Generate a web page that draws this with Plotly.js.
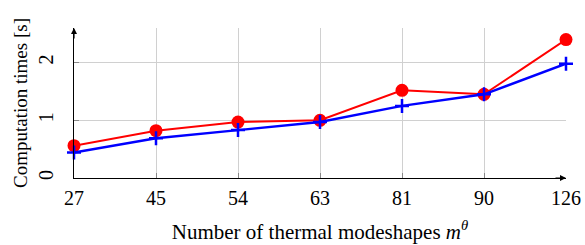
<!DOCTYPE html>
<html><head><meta charset="utf-8">
<script src="https://cdn.plot.ly/plotly-3.0.1.min.js"></script>
<style>body{margin:0;padding:0;background:#fff}#chart{width:585px;height:245px}</style>
</head><body><div id="chart"></div>
<script>
const categories = ['27','45','54','63','81','90','126'];
const redValues = [0.56, 0.82, 0.97, 1.00, 1.52, 1.45, 2.40];
const blueValues = [0.44, 0.69, 0.83, 0.97, 1.25, 1.45, 1.98];
const yTicks = [0, 1, 2];

const serif = 'Liberation Serif, Times New Roman, serif';
const traces = [
  {x: categories, y: redValues, type: 'scatter', mode: 'lines+markers',
   line: {color: '#ff0000', width: 2}, marker: {symbol: 'circle', size: 13, color: '#ff0000'},
   cliponaxis: false},
  {x: categories, y: blueValues, type: 'scatter', mode: 'lines+markers',
   line: {color: '#0000ff', width: 2.5}, marker: {symbol: 'cross-thin', size: 10, line: {color: '#0000ff', width: 2.5}},
   cliponaxis: false}
];
const layout = {
  width: 585, height: 245,
  margin: {l: 74, r: 19, t: 28, b: 67},
  paper_bgcolor: '#fff', plot_bgcolor: '#fff',
  showlegend: false,
  font: {family: serif, color: '#000', size: 20},
  xaxis: {type: 'category', range: [0, 6], showgrid: true, gridcolor: '#d0d0d0', gridwidth: 1,
    showline: true, linecolor: '#000', linewidth: 1.2, zeroline: false,
    ticks: 'inside', ticklen: 5, tickcolor: '#888', tickfont: {family: serif, size: 20},
    ticklabelstandoff: 2,
    title: {text: 'Number of thermal modeshapes <i>m</i><sup><i>θ</i></sup>', font: {family: serif, size: 21}, standoff: 16}},
  yaxis: {range: [0, 2.6], tickvals: yTicks, ticktext: yTicks.map(String), tickangle: -90,
    showgrid: true, gridcolor: '#d0d0d0', gridwidth: 1,
    showline: true, linecolor: '#000', linewidth: 1.2, zeroline: false,
    ticks: 'inside', ticklen: 5, tickcolor: '#888', tickfont: {family: serif, size: 20},
    ticklabelstandoff: 12,
    title: {text: 'Computation times [s]', font: {family: serif, size: 19}, standoff: 2}},
  annotations: [
    {xref: 'paper', yref: 'paper', x: 0, y: 1, ax: 0, ay: 12, text: '', showarrow: true,
     arrowhead: 2, arrowsize: 1, arrowwidth: 1.2, arrowcolor: '#000'},
    {xref: 'paper', yref: 'paper', x: 1, y: 0, ax: -12, ay: 0, text: '', showarrow: true,
     arrowhead: 2, arrowsize: 1, arrowwidth: 1.2, arrowcolor: '#000'}
  ]
};
Plotly.newPlot('chart', traces, layout, {displayModeBar: false, staticPlot: true});
</script></body></html>
